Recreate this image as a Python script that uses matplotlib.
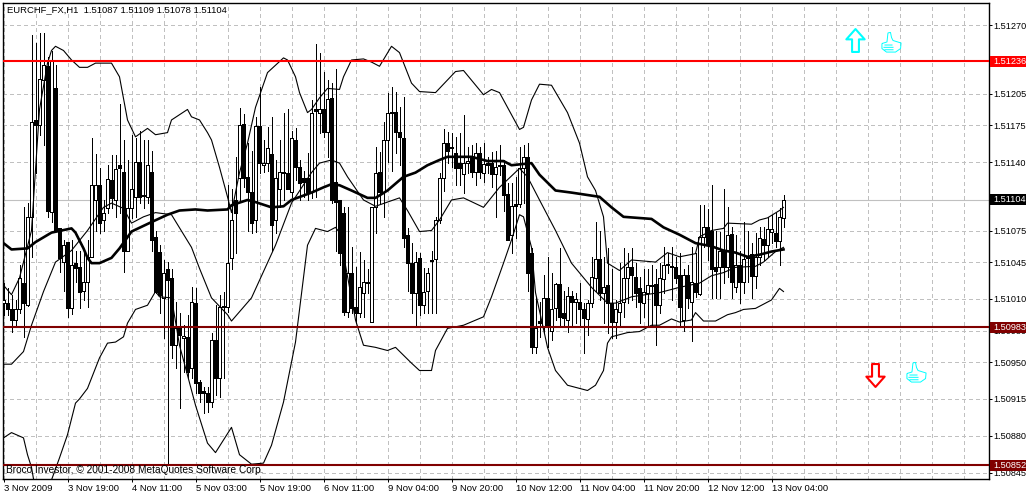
import matplotlib
matplotlib.use("agg")
import matplotlib.pyplot as plt
import numpy as np
from matplotlib.path import Path
from matplotlib.patches import Rectangle

plt.rcParams['font.family'] = ['Liberation Sans', 'DejaVu Sans']

# prices are stored as points above 1.50000
opens = [
    1006,1006,1000,990,1000,1025,1004,1088,1180,1175,
    1218,1231,1093,1210,1077,1045,1064,1001,1044,1040,
    1018,1026,1050,1104,1118,1085,1096,1123,1104,1137,
    1131,1056,1096,1107,1140,1109,1107,1131,1069,1055,
    1011,1038,1030,966,982,973,974,944,1006,931,
    923,921,912,971,935,1002,1002,1049,1104,1125,
    1176,1126,1112,1085,1174,1137,1139,1148,1085,1114,
    1131,1130,1112,1161,1135,1125,1125,1112,1190,1187,
    1190,1169,1201,1121,1104,1092,998,1035,1002,997,
    1016,1025,988,1097,1131,1112,1161,1187,1188,1169,
    1163,1071,1044,1016,1049,1004,1018,1047,1048,1085,
    1125,1158,1154,1149,1139,1129,1139,1144,1131,1149,
    1130,1139,1139,1129,1136,1137,1110,1071,1100,1100,
    1134,1145,1054,964,989,983,1011,980,1001,1024,
    997,990,1013,1007,1007,1000,991,1006,1030,1048,
    1016,1023,1006,988,998,1007,1030,1040,1031,1020,
    1006,1016,1023,1024,1004,1029,1042,1040,1040,1033,
    990,1033,1007,1025,1015,1069,1078,1075,1040,1040,
    1056,1040,1072,1021,1042,1026,1049,1053,1032,1050,
    1067,1061,1074,1073,1065,1087]
highs = [
    1025,1020,1014,1009,1042,1097,1101,1261,1253,1263,
    1263,1240,1246,1232,1077,1066,1064,1066,1056,1056,
    1056,1066,1163,1148,1134,1104,1137,1147,1147,1195,
    1161,1142,1166,1163,1170,1161,1161,1151,1075,1061,
    1047,1045,1038,1007,997,985,995,1021,1020,933,
    926,926,978,1004,1014,1017,1118,1114,1145,1191,
    1186,1158,1151,1183,1211,1161,1173,1183,1142,1161,
    1187,1190,1170,1172,1142,1132,1149,1199,1252,1244,
    1226,1218,1215,1228,1104,1097,1097,1059,1040,1055,
    1047,1038,1097,1154,1150,1178,1206,1211,1207,1192,
    1202,1077,1063,1055,1054,1039,1039,1056,1088,1130,
    1171,1169,1168,1164,1168,1185,1154,1156,1158,1154,
    1158,1145,1150,1151,1156,1142,1120,1120,1126,1154,
    1156,1158,1058,1012,1007,1033,1050,1035,1025,1058,
    1018,1021,1018,1016,1025,1006,1009,1050,1083,1075,
    1050,1058,1038,1009,1044,1058,1054,1058,1044,1031,
    1038,1038,1042,1038,1044,1059,1054,1059,1050,1054,
    1038,1042,1059,1054,1099,1099,1095,1118,1075,1074,
    1114,1097,1078,1071,1056,1083,1075,1063,1073,1078,
    1078,1088,1090,1092,1096,1109]
lows = [
    995,995,979,985,997,974,1003,1050,1130,1166,
    1156,1088,1083,1075,1036,1018,993,996,1026,1001,
    1009,1002,1050,1075,1073,1075,1092,1096,1088,1092,
    1036,1056,1087,1088,1101,1096,1101,1056,1016,997,
    973,852,954,944,906,941,935,935,921,912,
    902,903,907,919,917,935,998,1038,1054,1104,
    1116,1075,1073,1074,1130,1131,1132,1056,1073,1097,
    1104,1114,1107,1123,1104,1107,1104,1106,1107,1168,
    1164,1145,1101,1056,1042,995,993,997,987,993,
    993,1016,988,1073,1101,1088,1140,1132,1149,1137,
    1059,1018,997,985,995,997,997,997,997,1082,
    1113,1139,1135,1118,1118,1111,1130,1126,1118,1125,
    1121,1130,1116,1088,1128,1094,1066,1054,1068,1097,
    1101,1018,959,959,974,978,964,971,990,983,
    983,979,983,987,983,959,976,1002,1018,1009,
    987,978,973,973,983,993,1006,1009,1002,987,
    993,983,985,966,997,1016,1035,1009,1025,983,
    980,1001,970,1012,1014,1059,1047,1011,1011,1011,
    1025,1031,1011,1017,1006,1016,1026,1011,1020,1042,
    1047,1050,1063,1059,1042,1078]
closes = [
    1009,1000,990,1000,1030,1006,1088,1178,1175,1219,
    1232,1094,1237,1075,1049,1061,1001,1042,1039,1017,
    1026,1050,1118,1118,1082,1092,1124,1106,1133,1134,
    1056,1096,1114,1140,1107,1108,1137,1066,1017,1014,
    1035,1028,966,982,976,975,941,1007,930,921,
    921,912,971,935,1002,1003,1044,1085,1092,1175,
    1125,1112,1082,1174,1139,1139,1153,1080,1125,1131,
    1130,1114,1163,1135,1120,1121,1112,1187,1189,1190,
    1169,1200,1104,1102,1054,998,1035,1001,997,1021,
    1026,1026,1097,1130,1112,1161,1187,1188,1169,1164,
    1068,1044,1016,1045,1004,1017,1035,1046,1085,1125,
    1158,1151,1153,1134,1134,1139,1141,1131,1149,1131,
    1138,1137,1129,1135,1137,1109,1066,1098,1098,1134,
    1145,1035,964,982,987,1011,983,1000,1024,993,
    992,1013,1007,1010,1000,992,1006,1031,1048,1016,
    1021,1006,988,1000,1006,1030,1040,1033,1016,1007,
    1017,1023,1022,1004,1030,1042,1043,1041,1030,1002,
    1033,1011,1026,1017,1069,1078,1061,1038,1037,1056,
    1040,1071,1026,1042,1026,1048,1050,1032,1050,1068,
    1061,1076,1076,1065,1088,1104]

# indicator lines, read at the bars where they bend
ma_bars = [0,2,6,8,12,17,18,20,21,22,24,27,29,32,37,41,44,48,51,56,57,61,63,67,70,72,77,80,82,84,87,91,93,96,100,103,106,109,111,117,121,125,127,132,134,138,142,149,152,155,162,165,169,173,177,180,183,186,189,192,195]
ma_vals = [1063,1057,1058,1064,1073,1077,1073,1058,1049,1044,1044,1049,1058,1074,1083,1090,1094,1095,1094,1095,1099,1104,1102,1097,1098,1104,1111,1116,1119,1118,1113,1106,1106,1113,1126,1130,1137,1142,1145,1145,1141,1141,1137,1139,1128,1113,1111,1107,1097,1088,1086,1078,1071,1063,1060,1056,1054,1050,1052,1055,1057]

upper_bars = [0,2,4,7,9,11,12,13,15,17,19,21,23,27,29,31,33,36,38,41,42,46,47,49,51,52,54,56,57,59,61,63,66,70,71,73,74,76,77,79,81,84,85,87,90,92,94,97,99,102,104,108,111,113,115,120,122,124,129,130,132,134,137,141,144,146,148,150,151,154,157,163,166,169,173,174,177,180,181,187,189,191,194,195]
upper_vals = [1023,1014,1030,1075,1190,1234,1246,1250,1246,1237,1230,1230,1234,1234,1221,1180,1164,1172,1166,1168,1180,1190,1183,1180,1168,1161,1135,1107,1092,1130,1158,1192,1225,1239,1237,1221,1206,1187,1190,1201,1210,1209,1221,1237,1238,1235,1231,1250,1244,1215,1207,1206,1218,1226,1227,1204,1209,1206,1171,1173,1199,1214,1213,1187,1158,1126,1113,1088,1044,1037,1047,1045,1054,1050,1053,1069,1075,1077,1082,1081,1085,1087,1094,1097]

mid_bars = [0,2,5,7,10,13,17,21,25,27,30,32,35,38,42,47,49,52,56,57,62,68,72,77,79,82,84,86,90,93,96,99,101,104,107,109,112,115,120,124,129,131,134,138,142,147,151,153,157,164,169,174,177,180,183,188,190,193,195]
mid_vals = [948,948,960,985,1017,1045,1056,1075,1097,1101,1096,1082,1088,1092,1090,1059,1039,1011,995,989,1011,1061,1101,1130,1139,1142,1139,1126,1104,1098,1102,1106,1094,1074,1075,1085,1104,1106,1097,1116,1134,1126,1104,1075,1044,1021,1006,1006,1012,1016,1021,1025,1032,1035,1040,1041,1045,1055,1059]

lower_bars = [0,2,5,6,7,8,12,14,16,18,19,21,24,26,28,30,31,33,36,38,39,42,44,48,51,53,57,59,62,65,67,70,73,76,77,78,81,83,84,88,90,93,96,98,102,104,107,108,111,115,120,122,125,127,129,130,132,133,136,138,141,146,148,150,151,152,156,159,162,164,167,169,172,173,175,178,181,183,185,188,191,192,194,195]
lower_vals = [878,883,878,862,850,828,838,859,881,911,915,925,954,968,969,974,987,1000,1004,1017,1012,1011,966,909,873,864,888,862,853,854,871,912,969,1061,1069,1077,1074,1078,1073,990,966,964,961,964,949,942,942,961,982,985,993,1012,1044,1066,1090,1088,1059,1016,964,942,928,923,928,942,968,974,978,979,985,985,991,988,990,997,989,989,995,997,1000,1001,1007,1009,1020,1017]

price_ticks = [1270,1236,1205,1175,1140,1075,1045,1010,980,950,915,880,845]
time_ticks = ["3 Nov 2009","3 Nov 19:00","4 Nov 11:00","5 Nov 03:00","5 Nov 19:00","6 Nov 11:00",
              "9 Nov 04:00","9 Nov 20:00","10 Nov 12:00","11 Nov 04:00","11 Nov 20:00","12 Nov 12:00","13 Nov 04:00"]
res_level = 1236
sup_level = 983
low_level = 852
last_price = 1104


def to_price(points):
    return 1.5 + np.asarray(points, dtype=float) / 1e5


fig = plt.figure(figsize=(10.26, 4.95), dpi=100)
ax = fig.add_axes([2.5/1026, 1-478.5/495, 986/1026, 476/495])
ax.set_xlim(-0.25, 246.25)
ax.set_ylim(to_price(839.4), to_price(1291.6))

#------------------------------------------------------
#                   axes and grid
#------------------------------------------------------
ax.set_axisbelow(True)
ax.yaxis.tick_right()
ax.set_yticks(to_price(price_ticks))
ax.set_yticklabels([f"{p:.5f}" for p in to_price(price_ticks)])
ax.set_xticks(np.arange(len(time_ticks))*16)
ax.set_xticklabels(time_ticks, ha='left')
ax.set_xticks(np.arange(0, 247, 8), minor=True)
ax.tick_params(axis='y', which='major', labelsize=6.6, length=2.4, width=0.72, pad=1.4)
ax.tick_params(axis='x', which='major', labelsize=6.8, length=2.4, width=0.72, pad=1.5)
ax.tick_params(axis='x', which='minor', length=0)
ax.grid(True, which='both', color='#c0c0c0', lw=0.72, ls=(0, (4, 4)), antialiased=False)
for s in ax.spines.values():
    s.set_linewidth(1.0)

#------------------------------------------------------
#                   candles
#------------------------------------------------------
bars = np.arange(len(opens))
o, h, l, c = map(to_price, (opens, highs, lows, closes))
up = c >= o
ax.vlines(bars, l, h, color='k', lw=0.72, zorder=2, antialiased=False)
ax.bar(bars, np.abs(c-o), bottom=np.minimum(o, c), width=0.55,
       color=np.where(up, 'white', 'black'), edgecolor='k', lw=0.72, zorder=3, antialiased=False)

#------------------------------------------------------
#                   indicators
#------------------------------------------------------
for xs, ys in ((upper_bars, upper_vals), (mid_bars, mid_vals), (lower_bars, lower_vals)):
    ax.plot(xs, to_price(ys), c='k', lw=0.8, zorder=4)
ax.plot(ma_bars, to_price(ma_vals), c='k', lw=1.9, zorder=5)

#------------------------------------------------------
#                   price levels
#------------------------------------------------------
ax.axhline(to_price(last_price), color='#c0c0c0', lw=0.8, zorder=1)
levels = [(res_level, '#ff0000', 'white'), (sup_level, '#800000', 'white'),
          (low_level, '#800000', 'white'), (last_price, 'black', 'white')]
trans = ax.get_yaxis_transform()
for lev, col, tcol in levels:
    if lev != last_price:
        ax.axhline(to_price(lev), color=col, lw=1.5, zorder=6)
    y = to_price(lev)
    half = 5.5 / 476 * (1291.6-839.4) / 1e5
    ax.add_patch(Rectangle((1.0012, y-half), 0.04, 2*half, transform=trans, color=col,
                           clip_on=False, zorder=7, lw=0))
    ax.text(1.0052, y, f"{y:.5f}", transform=trans, color=tcol, fontsize=6.6,
            va='center', ha='left', clip_on=False, zorder=8)

#------------------------------------------------------
#                   signal markers
#------------------------------------------------------
arrow_up = Path([(-0.3,-1),(-0.3,0.1),(-0.8,0.1),(0,1),(0.8,0.1),(0.3,0.1),(0.3,-1),(-0.3,-1)], closed=True)
arrow_down = Path([(-0.3,1),(-0.3,-0.1),(-0.8,-0.1),(0,-1),(0.8,-0.1),(0.3,-0.1),(0.3,1),(-0.3,1)], closed=True)
thumb_pts = [(-0.95,-0.1),(-0.45,0.05),(-0.35,0.95),(-0.1,1.0),(0,0.5),(0.15,0.2),(0.95,-0.05),(0.9,-0.6),(0.4,-0.95),(-0.5,-0.95),(-0.95,-0.6),(-0.95,-0.1),
             (-0.7,-0.25),(0.1,-0.25),(-0.8,-0.48),(0.2,-0.48),(-0.7,-0.72),(0.2,-0.72)]
thumb_codes = [Path.MOVETO] + [Path.LINETO]*11 + [Path.MOVETO, Path.LINETO]*3
thumb = Path(thumb_pts, thumb_codes)

ax.plot([212.9], [to_price(1256)], marker=arrow_up, ms=16.5, mfc='white', mec='#00ffff', mew=1.5, ls='none', zorder=6)
ax.plot([217.9], [to_price(938)], marker=arrow_down, ms=16.5, mfc='white', mec='#ff0000', mew=1.5, ls='none', zorder=6)
ax.plot([221.9], [to_price(1254)], marker=thumb, ms=14.5, mfc='none', mec='#00ffff', mew=0.7, ls='none', zorder=6)
ax.plot([228.1], [to_price(941)], marker=thumb, ms=14.5, mfc='none', mec='#00ffff', mew=0.7, ls='none', zorder=6)

ax.text(7/1026, 1-10/495, "EURCHF_FX,H1  1.51087 1.51109 1.51078 1.51104", transform=fig.transFigure,
        fontsize=6.8, va='center', ha='left', zorder=9)
ax.text(6/1026, 1-470/495, "Broco Investor, © 2001-2008 MetaQuotes Software Corp.", transform=fig.transFigure,
        fontsize=7.3, va='center', ha='left', zorder=9)

plt.savefig("out.png", dpi=100)
plt.close()
